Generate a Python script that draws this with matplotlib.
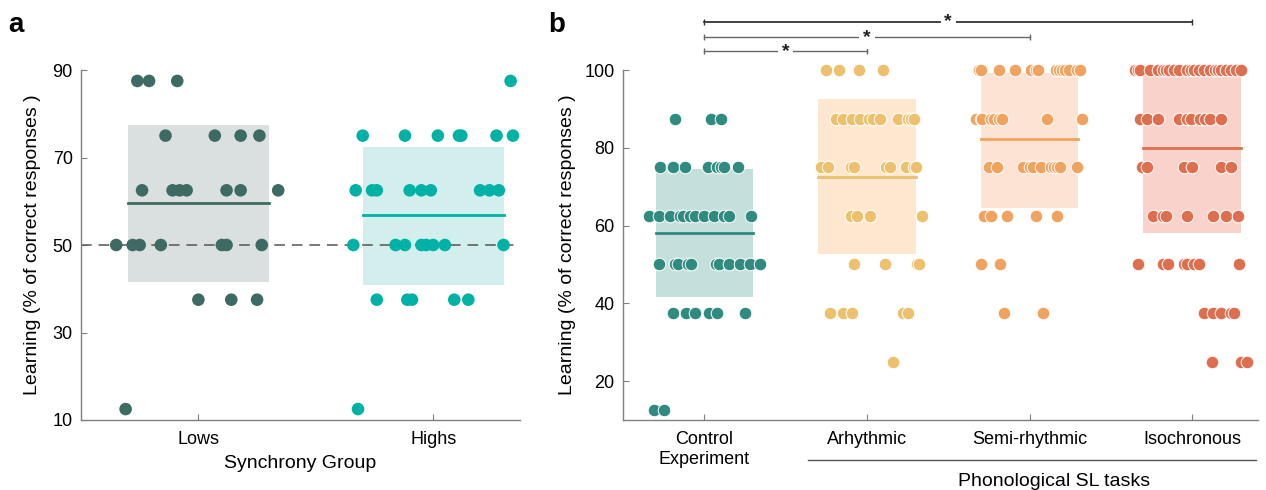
import matplotlib
matplotlib.use('Agg')
import matplotlib.pyplot as plt
import matplotlib.transforms as mtransforms

plt.rcParams['font.family'] = ['Liberation Sans', 'DejaVu Sans']

# ---- panel a data: score -> x offsets of the dots
lows_rows = {87.5: [-0.26, -0.21, -0.09],
             75: [-0.14, 0.07, 0.18, 0.26],
             62.5: [-0.24, -0.11, -0.08, -0.05, 0.12, 0.18, 0.34],
             50: [-0.35, -0.28, -0.25, -0.16, 0.10, 0.12, 0.27],
             37.5: [0.00, 0.14, 0.25],
             12.5: [-0.31]}
highs_rows = {87.5: [0.33],
              75: [-0.30, -0.12, 0.02, 0.11, 0.12, 0.27, 0.34],
              62.5: [-0.33, -0.26, -0.24, -0.10, -0.05, -0.01, 0.20, 0.24, 0.28],
              50: [-0.34, -0.16, -0.12, -0.05, -0.03, 0.00, 0.05, 0.30],
              37.5: [-0.24, -0.11, -0.09, 0.09, 0.15],
              12.5: [-0.32]}
groups_a = ['Lows', 'Highs']
box_a = [(41.5, 77.4), (40.9, 72.4)]
mean_a = [59.6, 56.9]
dot_a = ['#3e6a64', '#00b2a5']
fill_a = ['#dadfdf', '#d3efed']

# ---- panel b data
control_rows = {87.5: [-0.18, 0.04, 0.10],
                75: [-0.27, -0.20, -0.19, -0.12, 0.02, 0.08, 0.10, 0.12, 0.21],
                62.5: [-0.34, -0.28, -0.21, -0.15, -0.13, -0.09, -0.06, 0.00, 0.06, 0.12, 0.15, 0.29],
                50: [-0.28, -0.18, -0.16, -0.10, -0.08, 0.07, 0.09, 0.15, 0.22, 0.28, 0.34],
                37.5: [-0.19, -0.11, -0.06, 0.03, 0.08, 0.25],
                12.5: [-0.31, -0.25]}
arhythmic_rows = {100: [-0.25, -0.17, -0.05, 0.10],
                  87.5: [-0.19, -0.15, -0.09, -0.04, 0.01, 0.04, 0.08, 0.19, 0.25, 0.27, 0.29],
                  75: [-0.28, -0.24, -0.10, -0.08, 0.12, 0.14, 0.24, 0.29, 0.30],
                  62.5: [-0.10, -0.06, 0.02, 0.34],
                  50: [-0.08, 0.11, 0.31, 0.32],
                  37.5: [-0.23, -0.15, -0.09, 0.22, 0.25],
                  25: [0.16]}
semi_rows = {100: [-0.31, -0.30, -0.19, -0.09, 0.01, 0.04, 0.05, 0.16, 0.18, 0.20, 0.22, 0.24, 0.29, 0.31],
             87.5: [-0.33, -0.30, -0.29, -0.24, -0.22, -0.19, -0.17, 0.11, 0.32],
             75: [-0.25, -0.20, -0.04, 0.00, 0.02, 0.07, 0.13, 0.15, 0.17, 0.19, 0.29],
             62.5: [-0.28, -0.24, -0.14, 0.04, 0.17],
             50: [-0.30, -0.18],
             37.5: [-0.16, 0.08]}
iso_rows = {100: [-0.35, -0.33, -0.32, -0.26, -0.21, -0.18, -0.16, -0.14, -0.11, -0.08, -0.03, -0.01,
                  0.01, 0.04, 0.07, 0.11, 0.14, 0.16, 0.18, 0.21, 0.24, 0.27, 0.30],
            87.5: [-0.32, -0.28, -0.21, -0.08, -0.03, -0.01, 0.05, 0.08, 0.11, 0.18],
            75: [-0.31, -0.28, -0.05, 0.00, 0.18, 0.24],
            62.5: [-0.24, -0.18, -0.16, -0.03, 0.13, 0.21, 0.28],
            50: [-0.33, -0.18, -0.15, -0.05, -0.03, 0.01, 0.04, 0.29],
            37.5: [0.07, 0.13, 0.18, 0.24, 0.26],
            25: [0.12, 0.30, 0.34]}
groups_b = ['Control\nExperiment', 'Arhythmic', 'Semi-rhythmic', 'Isochronous']
box_b = [(41.5, 74.6), (52.8, 92.6), (64.4, 99.2), (58.0, 98.7)]
mean_b = [58.2, 72.6, 82.3, 80.0]
dot_b = ['#2f8a80', '#ecc06c', '#f0a35e', '#dd6e4e']
fill_b = ['#c5dfdc', '#fde8cf', '#fde3d4', '#f9d3cb']
# significance brackets: (from group, to group, height in axes fraction)
sig_pairs = [(1, 4, 1.137), (1, 3, 1.094), (1, 2, 1.054)]

W, H = 1266, 490
fig = plt.figure(figsize=(W / 100, H / 100), dpi=100)
ax_a = fig.add_axes([81 / W, 1 - 420 / H, (520 - 81) / W, 350 / H])
ax_b = fig.add_axes([623 / W, 1 - 420 / H, (1258 - 623) / W, 350 / H])

spine_col = '#808080'
for ax in (ax_a, ax_b):
    for s in ['top', 'right']:
        ax.spines[s].set_visible(False)
    for s in ['left', 'bottom']:
        ax.spines[s].set_color(spine_col)
        ax.spines[s].set_linewidth(1.0)
    ax.tick_params(direction='in', length=4, color=spine_col, labelsize=13, pad=6)
    ax.tick_params(axis='x', pad=8)


def draw_group(ax, xc, rows, box, mean, dot, fill, hw=0.3, edge=False):
    ax.fill_between([xc - hw, xc + hw], box[0], box[1], color=fill, lw=0, zorder=1)
    ax.plot([xc - hw, xc + hw], [mean, mean], color=dot, lw=2, zorder=2)
    for score, offs in rows.items():
        xs = [xc + o for o in offs]
        ys = [score] * len(offs)
        ax.scatter(xs, ys, s=82, color=dot, zorder=3, clip_on=False,
                   edgecolors='white' if edge else 'none', linewidths=0.7 if edge else 0)


# ---- panel a
for i, rows in enumerate([lows_rows, highs_rows]):
    draw_group(ax_a, i + 1, rows, box_a[i], mean_a[i], dot_a[i], fill_a[i])
ax_a.axhline(50, color='#555555', lw=1.1, ls=(0, (7, 4.5)), zorder=2.5)
ax_a.set_xlim(0.5, 2.37)
ax_a.set_ylim(10, 90)
ax_a.set_yticks([10, 30, 50, 70, 90])
ax_a.set_xticks([1, 2])
ax_a.set_xticklabels(groups_a)
ax_a.set_xlabel('Synchrony Group', fontsize=14, labelpad=5)
ax_a.set_ylabel('Learning (% of correct responses )', fontsize=14, labelpad=8)

# ---- panel b
for i, rows in enumerate([control_rows, arhythmic_rows, semi_rows, iso_rows]):
    draw_group(ax_b, i + 1, rows, box_b[i], mean_b[i], dot_b[i], fill_b[i], edge=True)
ax_b.set_xlim(0.5, 4.405)
ax_b.set_ylim(10, 100)
ax_b.set_yticks([20, 40, 60, 80, 100])
ax_b.set_xticks([1, 2, 3, 4])
ax_b.set_xticklabels(groups_b, linespacing=1.2)
ax_b.set_ylabel('Learning (% of correct responses )', fontsize=14, labelpad=6)

trans = mtransforms.blended_transform_factory(ax_b.transData, ax_b.transAxes)
for k, (g0, g1, yy) in enumerate(sig_pairs):
    col = '#333333' if k == 0 else '#666666'
    ax_b.plot([g0, g1], [yy, yy], color=col, lw=1.3 if k == 0 else 1.0, transform=trans,
              clip_on=False, marker='|', markersize=4, markeredgewidth=1.0)
    ax_b.text((g0 + g1) / 2, yy, '*', transform=trans, ha='center', va='center', fontsize=14,
              fontweight='bold', color='#222222',
              bbox=dict(boxstyle='square,pad=0.2', fc='white', ec='none'))

ax_b.plot([1.64, 4.39], [-0.114, -0.114], color='#555555', lw=1.0, transform=trans, clip_on=False)
ax_b.text(3.15, -0.175, 'Phonological SL tasks', transform=trans, ha='center', va='center',
          fontsize=14)

fig.text(8 / W, 1 - 25 / H, 'a', fontsize=20, fontweight='bold', va='center', ha='left')
fig.text(548 / W, 1 - 25 / H, 'b', fontsize=20, fontweight='bold', va='center', ha='left')

fig.savefig('out.png', dpi=100)
